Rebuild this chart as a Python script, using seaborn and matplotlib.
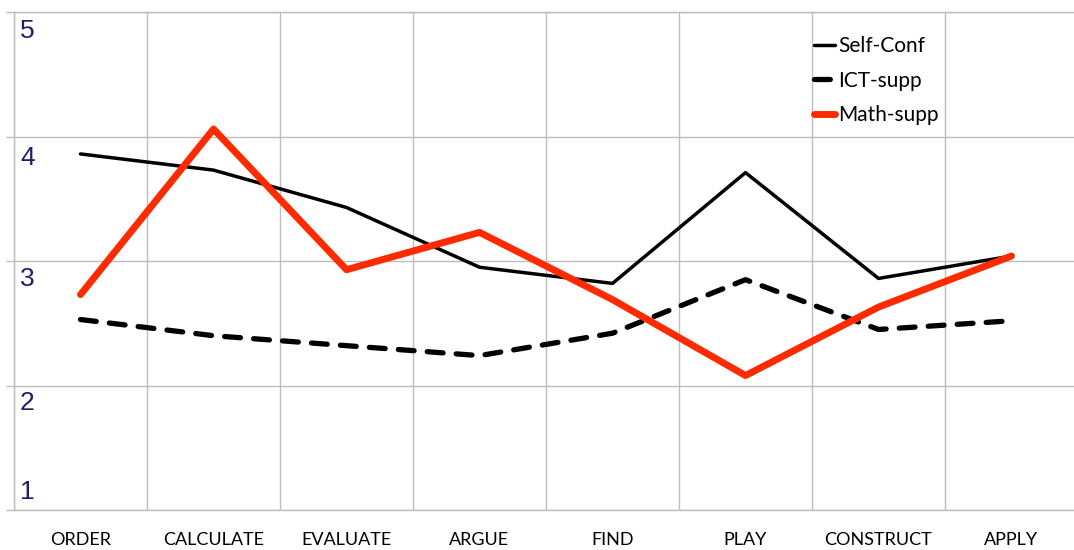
import matplotlib
matplotlib.use("Agg")
import matplotlib.pyplot as plt
import matplotlib.transforms as mtransforms
import seaborn as sns
import pandas as pd
import numpy as np

categories = ["ORDER", "CALCULATE", "EVALUATE", "ARGUE", "FIND", "PLAY", "CONSTRUCT", "APPLY"]
self_conf = [3.86, 3.73, 3.43, 2.95, 2.82, 3.71, 2.86, 3.04]
ict_supp = [2.53, 2.40, 2.32, 2.24, 2.42, 2.85, 2.45, 2.52]
math_supp = [2.73, 4.06, 2.93, 3.23, 2.69, 2.08, 2.63, 3.04]
series_names = ["Self-Conf", "ICT-supp", "Math-supp"]
y_ticks = [1, 2, 3, 4, 5]

sns.set_theme(style="white")
plt.rcParams["font.family"] = ["Lato", "DejaVu Sans"]

W, H = 1074, 550
fig = plt.figure(figsize=(W / 100, H / 100), dpi=100)
ax = fig.add_axes([14 / W, (H - 510) / H, 1064 / W, 498 / H])

pos = np.arange(len(categories))
df = pd.DataFrame({"x": pos, "Self-Conf": self_conf, "ICT-supp": ict_supp, "Math-supp": math_supp})

styles = {
    "Self-Conf": dict(color="black", linewidth=2.5, linestyle="-"),
    "ICT-supp": dict(color="black", linewidth=3.8, linestyle=(0, (3.0, 2.5)), dash_capstyle="round"),
    "Math-supp": dict(color="#FF2A00", linewidth=5.0, linestyle="-"),
}
for name in series_names:
    sns.lineplot(data=df, x="x", y=name, ax=ax, label=name, **styles[name])

ax.set_xlim(-0.5, len(categories) - 0.5)
ax.set_ylim(1, 5)
grid_c = "#BDBDBD"

ax.set_xticks(pos)
ax.set_xticklabels(categories, fontsize=13, color="black")
ax.set_xticks(np.arange(-0.5, len(categories)), minor=True)
ax.tick_params(axis="x", which="major", length=0, pad=16)
ax.tick_params(axis="x", which="minor", length=7, color=grid_c, width=1)
ax.set_yticks(y_ticks)
ax.set_yticklabels([])
ax.tick_params(axis="y", which="major", length=6, color=grid_c, width=1, left=True)
ax.grid(True, axis="y", which="major", color=grid_c, linewidth=1)
ax.grid(True, axis="x", which="minor", color=grid_c, linewidth=1)
ax.grid(False, axis="x", which="major")
ax.set_axisbelow(True)
for s in ["left", "bottom", "top"]:
    ax.spines[s].set_color(grid_c)
    ax.spines[s].set_linewidth(1)
ax.spines["right"].set_visible(False)
ax.set_xlabel("")
ax.set_ylabel("")

trans = mtransforms.blended_transform_factory(ax.transAxes, ax.transData)
label_offsets = {5: -0.15, 4: -0.17, 3: -0.145, 2: -0.14, 1: 0.145}
for v in y_ticks:
    ax.text(6 / 1064, v + label_offsets[v], str(v), transform=trans, ha="left", va="center",
            fontsize=19, color="#201C6E", family=["Liberation Sans", "DejaVu Sans"])

leg = ax.legend(loc="upper left", bbox_to_anchor=(814 / W, 1 - 36 / H), bbox_transform=fig.transFigure,
                frameon=False, fontsize=15, handlelength=1.0, handletextpad=0.15, labelspacing=0.7,
                borderpad=0, borderaxespad=0)
for t in leg.get_texts():
    t.set_color("black")

fig.savefig("out.png", dpi=100)
